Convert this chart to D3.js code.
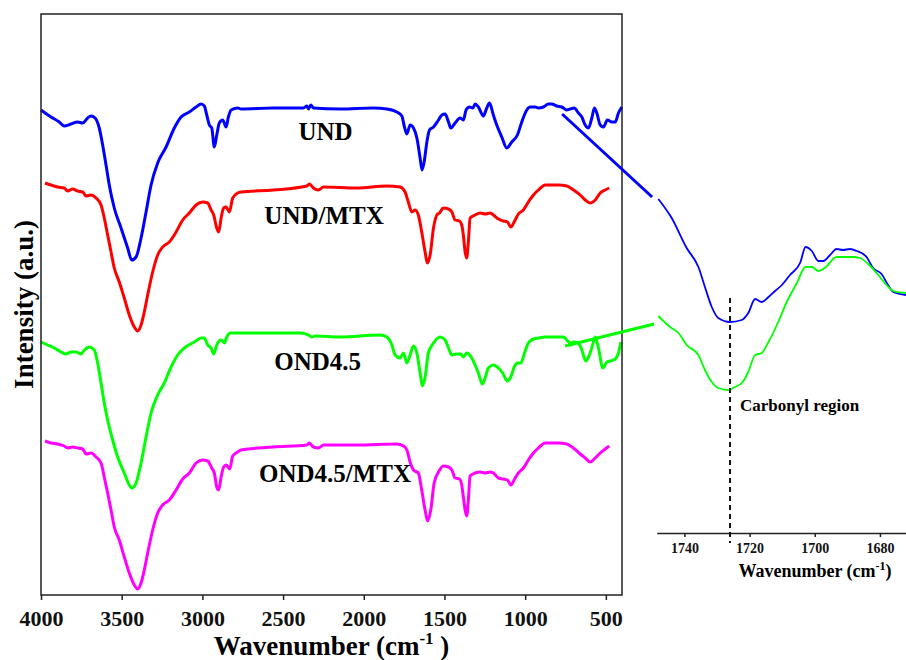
<!DOCTYPE html>
<html>
<head>
<meta charset="utf-8">
<script src="https://cdn.jsdelivr.net/npm/d3@7"></script>
<style>
  body { margin: 0; background: #fff; }
  text { font-family: "Liberation Serif", "Times New Roman", serif; font-weight: bold; }
</style>
</head>
<body>
<svg id="chart"></svg>
<script>
// FTIR spectra, [wavenumber, intensity a.u.]
const und = [[4000,485],[3938,478],[3887,473],[3856,469],[3814,471],[3773,473],[3742,472],[3711,477],[3690,479],[3665,477],[3639,467],[3618,450],[3597,430],[3577,410],[3546,387],[3504,367],[3463,347],[3438,335],[3411,338],[3380,357],[3349,383],[3318,410],[3277,432],[3225,448],[3174,467],[3132,478],[3081,483],[3039,488],[3008,491],[2988,489],[2973,480],[2957,470],[2942,467],[2926,448],[2911,460],[2895,472],[2874,475],[2853,468],[2839,478],[2822,485],[2781,487],[2760,486],[2560,487],[2374,487],[2353,489],[2343,486],[2328,490],[2312,487],[2147,486],[1940,487],[1857,486],[1795,483],[1764,479],[1748,468],[1733,461],[1713,470],[1692,467],[1671,457],[1651,437],[1639,425],[1626,433],[1609,453],[1593,465],[1568,468],[1537,475],[1516,480],[1496,481],[1475,473],[1461,467],[1434,472],[1403,477],[1383,475],[1366,485],[1345,488],[1324,487],[1310,491],[1290,488],[1259,479],[1238,487],[1221,492],[1197,480],[1176,470],[1145,458],[1114,447],[1083,453],[1048,460],[1021,473],[990,485],[969,488],[938,488],[918,487],[887,488],[856,491],[835,491],[804,489],[773,488],[742,485],[721,486],[696,487],[670,482],[649,478],[628,470],[608,467],[587,477],[571,487],[556,482],[535,470],[515,468],[490,475],[463,473],[442,473],[422,482],[401,488]];

const undMtx = [[3975,412],[3938,410],[3897,408],[3856,407],[3835,404],[3804,406],[3773,404],[3742,403],[3721,399],[3690,400],[3659,397],[3628,390],[3608,377],[3587,360],[3566,343],[3546,327],[3515,313],[3484,297],[3453,280],[3422,268],[3401,264],[3380,270],[3360,283],[3339,300],[3308,323],[3277,340],[3246,348],[3205,353],[3163,363],[3122,375],[3081,382],[3039,390],[2998,393],[2967,392],[2946,385],[2930,380],[2911,367],[2899,363],[2884,377],[2868,387],[2853,388],[2833,383],[2812,397],[2781,402],[2760,403],[2560,405],[2353,409],[2337,411],[2312,407],[2281,405],[2250,408],[2043,407],[1857,409],[1775,408],[1744,403],[1724,393],[1702,383],[1682,385],[1662,380],[1641,363],[1620,343],[1606,332],[1589,340],[1568,367],[1547,380],[1531,382],[1507,387],[1475,386],[1454,383],[1434,375],[1407,374],[1393,370],[1383,360],[1372,343],[1362,337],[1352,353],[1341,377],[1310,380],[1279,382],[1248,381],[1217,382],[1197,380],[1166,376],[1135,374],[1110,373],[1089,368],[1062,375],[1042,381],[1011,385],[980,393],[949,400],[918,405],[876,410],[835,410],[794,410],[742,409],[701,405],[659,400],[628,395],[597,392],[566,395],[535,402],[504,405],[479,407]];

const ond45 = [[4000,253],[3959,250],[3918,247],[3876,243],[3845,241],[3814,243],[3783,243],[3752,241],[3731,245],[3701,248],[3670,245],[3649,232],[3628,212],[3608,192],[3587,175],[3556,155],[3525,138],[3484,122],[3453,110],[3436,107],[3411,112],[3380,132],[3349,158],[3318,182],[3277,200],[3236,212],[3194,228],[3153,240],[3112,247],[3050,253],[3008,257],[2988,257],[2967,250],[2946,247],[2930,241],[2911,250],[2884,255],[2864,252],[2849,258],[2827,262],[2760,262],[2395,262],[2343,260],[2322,258],[2302,259],[2147,258],[1899,260],[1857,258],[1826,250],[1806,240],[1775,237],[1754,242],[1733,232],[1713,240],[1692,249],[1671,242],[1651,222],[1637,209],[1620,218],[1600,242],[1568,252],[1527,258],[1496,255],[1475,247],[1454,240],[1424,241],[1399,241],[1383,238],[1362,242],[1331,237],[1310,230],[1290,222],[1265,211],[1248,217],[1228,227],[1197,230],[1166,227],[1139,222],[1110,214],[1089,218],[1068,228],[1048,232],[1027,232],[1004,242],[980,252],[949,256],[918,257],[876,258],[835,258],[794,258],[763,258],[742,255],[721,252],[701,253],[670,252],[649,245],[624,234],[608,238],[587,247],[566,258],[546,247],[519,227],[494,233],[473,234],[442,236],[422,242],[407,253]];

const ond45Mtx = [[3975,154],[3938,152],[3897,151],[3856,149],[3835,147],[3804,148],[3773,147],[3742,146],[3721,141],[3690,142],[3659,138],[3628,132],[3608,118],[3587,102],[3566,85],[3546,68],[3515,55],[3484,38],[3453,22],[3422,10],[3401,6],[3380,12],[3360,25],[3339,42],[3308,65],[3277,82],[3246,90],[3205,95],[3163,105],[3122,116],[3081,122],[3039,132],[2998,135],[2967,134],[2942,127],[2926,122],[2911,108],[2899,105],[2884,118],[2868,128],[2852,130],[2831,126],[2812,139],[2781,143],[2760,145],[2560,148],[2353,150],[2337,152],[2312,148],[2281,147],[2250,150],[2043,150],[1795,151],[1754,149],[1733,145],[1713,133],[1692,125],[1662,122],[1641,105],[1620,85],[1604,74],[1585,85],[1564,112],[1537,123],[1507,129],[1475,128],[1454,125],[1434,117],[1407,116],[1393,110],[1383,98],[1372,85],[1362,79],[1352,95],[1341,119],[1310,122],[1279,123],[1248,122],[1217,123],[1197,122],[1166,117],[1135,116],[1110,115],[1089,110],[1062,117],[1042,122],[1011,127],[980,135],[949,142],[918,147],[876,152],[835,152],[794,152],[742,151],[701,147],[659,141],[628,137],[597,133],[566,137],[535,142],[504,146],[479,149]];

// carbonyl region, zoomed
const insetUnd = [[1748.0,334],[1743.9,315],[1739.3,285],[1735.7,266],[1733.7,246],[1731.6,226],[1729.6,215],[1726.0,211],[1722.4,213],[1720.4,220],[1718.3,234],[1716.3,231],[1714.2,236],[1712.2,242],[1710.1,248],[1707.6,258],[1704.5,270],[1702.8,286],[1700.9,282],[1698.9,272],[1697.4,272],[1695.3,278],[1693.3,284],[1691.3,283],[1689.2,284],[1687.1,282],[1684.1,276],[1682.1,265],[1679.5,259],[1677.5,248],[1675.9,241],[1672.0,238]];
const insetOnd = [[1748.0,217],[1744.4,206],[1741.8,200],[1739.3,188],[1735.7,178],[1733.7,163],[1731.6,151],[1729.6,145],[1726.5,143],[1724.5,146],[1722.1,151],[1720.4,161],[1718.3,178],[1716.3,180],[1714.2,191],[1711.2,211],[1708.6,231],[1705.5,250],[1702.8,266],[1700.9,266],[1698.9,262],[1696.9,265],[1693.3,276],[1691.3,276],[1688.2,276],[1686.1,275],[1683.6,269],[1680.5,258],[1678.0,248],[1675.9,242],[1672.0,240]];

const mainTicks  = [4000, 3500, 3000, 2500, 2000, 1500, 1000, 500];
const insetTicks = [1740, 1720, 1700, 1680];
const carbonylPeak = 1726;

const series = [
  {name: "UND",        data: und,      color: "#0000ff", label: [2237, 455]},
  {name: "UND/MTX",    data: undMtx,   color: "#ff0000", label: [2246, 371]},
  {name: "OND4.5",     data: ond45,    color: "#00ff00", label: [2286, 225]},
  {name: "OND4.5/MTX", data: ond45Mtx, color: "#ff00ff", label: [2178, 113]}
];

const W = 906, H = 660;
const svg = d3.select("#chart").attr("width", W).attr("height", H);

// main panel
const plot = {left: 41, top: 14, right: 622, bottom: 595};
const x = d3.scaleLinear().domain([4000, 400]).range([plot.left, plot.right]);
const y = d3.scaleLinear().domain([0, 581]).range([plot.bottom, plot.top]);

const line = d3.line()
  .x(d => x(d[0]))
  .y(d => y(d[1]))
  .curve(d3.curveMonotoneX);

// inset panel
const ix = d3.scaleLinear().domain([1748.5, 1672]).range([656.7, 906]);
const iy = d3.scaleLinear().domain([0, 100]).range([533, 433]);
const iline = d3.line()
  .x(d => ix(d[0]))
  .y(d => iy(d[1]))
  .curve(d3.curveMonotoneX);

svg.append("g").selectAll("path")
  .data(series)
  .join("path")
    .attr("d", d => line(d.data))
    .attr("fill", "none")
    .attr("stroke", d => d.color)
    .attr("stroke-width", 3)
    .attr("stroke-linejoin", "round");

svg.append("g").selectAll("text")
  .data(series)
  .join("text")
    .attr("x", d => x(d.label[0]))
    .attr("y", d => y(d.label[1]))
    .attr("text-anchor", "middle")
    .style("font-size", "25px")
    .text(d => d.name);

// frame
svg.append("rect")
  .attr("x", plot.left).attr("y", plot.top)
  .attr("width", plot.right - plot.left)
  .attr("height", plot.bottom - plot.top)
  .attr("fill", "none")
  .attr("stroke", "#222")
  .attr("stroke-width", 1.5);

const xAxis = svg.append("g")
  .attr("transform", `translate(0,${plot.bottom})`)
  .call(d3.axisBottom(x).tickValues(mainTicks).tickSize(5).tickPadding(10).tickFormat(d3.format("d")));
xAxis.select(".domain").remove();
xAxis.selectAll(".tick line").attr("stroke", "#222").attr("stroke-width", 1.5);
xAxis.selectAll(".tick text")
  .attr("fill", "#111")
  .style("font-family", "'Liberation Serif', serif")
  .style("font-weight", "bold")
  .style("font-size", "22px");

const xTitle = svg.append("text")
  .attr("x", (plot.left + plot.right) / 2)
  .attr("y", 655)
  .attr("text-anchor", "middle")
  .style("font-size", "27px");
xTitle.append("tspan").text("Wavenumber (cm");
xTitle.append("tspan").attr("dy", -11).style("font-size", "17px").text("-1");
xTitle.append("tspan").attr("dy", 11).text(" )");

svg.append("text")
  .attr("transform", `translate(33,${(plot.top + plot.bottom) / 2}) rotate(-90)`)
  .attr("text-anchor", "middle")
  .style("font-size", "27px")
  .text("Intensity (a.u.)");

// connectors from main panel to inset
const connectors = [
  {from: [771, 481], to: [1749.9, 336], color: "#0000ff"},
  {from: [752, 249], to: [1749.3, 209], color: "#00ff00"}
];
svg.append("g").selectAll("line")
  .data(connectors)
  .join("line")
    .attr("x1", d => x(d.from[0])).attr("y1", d => y(d.from[1]))
    .attr("x2", d => ix(d.to[0])).attr("y2", d => iy(d.to[1]))
    .attr("stroke", d => d.color)
    .attr("stroke-width", 3);

svg.append("g").selectAll("path")
  .data([{data: insetUnd, color: "#0000ff"}, {data: insetOnd, color: "#00ff00"}])
  .join("path")
    .attr("d", d => iline(d.data))
    .attr("fill", "none")
    .attr("stroke", d => d.color)
    .attr("stroke-width", 1.8);

const iAxis = svg.append("g")
  .attr("transform", `translate(0,${iy(0)})`)
  .call(d3.axisBottom(ix).tickValues(insetTicks).tickSize(4).tickPadding(6).tickSizeOuter(0).tickFormat(d3.format("d")));
iAxis.select(".domain").attr("stroke", "#222").attr("stroke-width", 1.5);
iAxis.selectAll(".tick line").attr("stroke", "#222").attr("stroke-width", 1.5);
iAxis.selectAll(".tick text")
  .attr("fill", "#111")
  .style("font-family", "'Liberation Serif', serif")
  .style("font-weight", "bold")
  .style("font-size", "14px");

svg.append("line")
  .attr("x1", ix(carbonylPeak)).attr("x2", ix(carbonylPeak))
  .attr("y1", iy(235)).attr("y2", iy(-10))
  .attr("stroke", "#111")
  .attr("stroke-width", 2)
  .attr("stroke-dasharray", "5,4");

svg.append("text")
  .attr("x", ix(carbonylPeak) + 10)
  .attr("y", iy(122))
  .style("font-size", "17px")
  .text("Carbonyl region");

const iTitle = svg.append("text")
  .attr("x", 815)
  .attr("y", 577)
  .attr("text-anchor", "middle")
  .style("font-size", "18px");
iTitle.append("tspan").text("Wavenumber (cm");
iTitle.append("tspan").attr("dy", -7).style("font-size", "12px").text("-1");
iTitle.append("tspan").attr("dy", 7).text(")");
</script>
</body>
</html>
